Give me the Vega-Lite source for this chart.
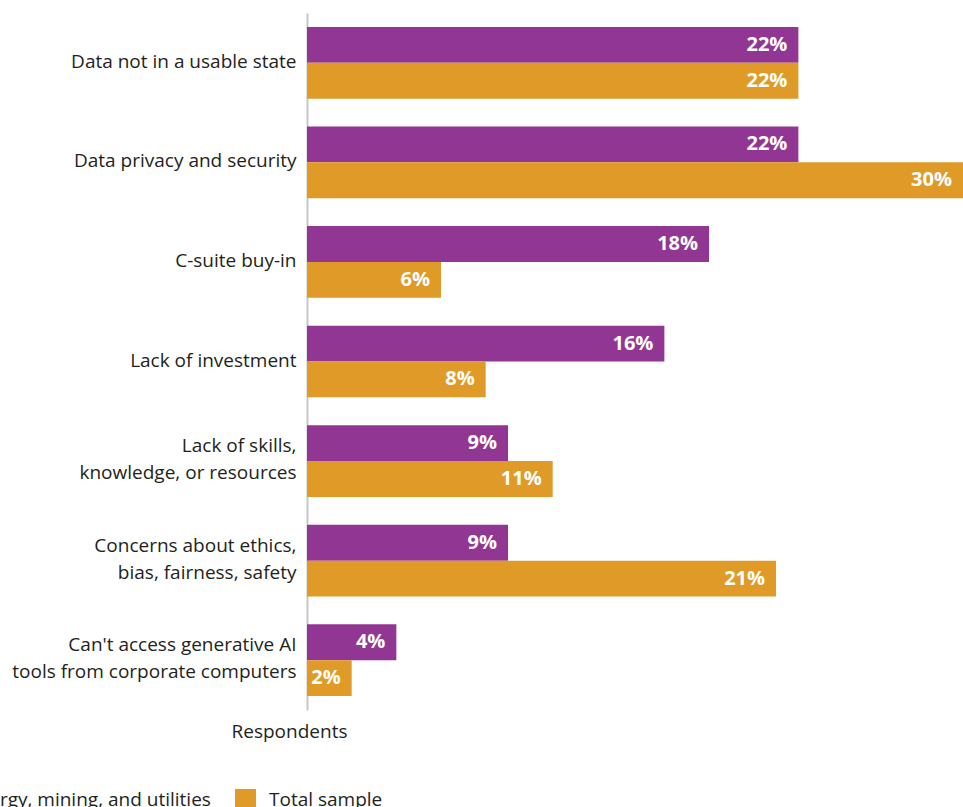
{
  "$schema": "https://vega.github.io/schema/vega-lite/v6.json",
  "width": 656,
  "height": 697,
  "autosize": {"type": "none"},
  "padding": {"left": 307, "top": 13, "right": 0, "bottom": 97},
  "background": "white",
  "config": {
    "view": {"stroke": null},
    "font": "Open Sans"
  },
  "data": {
    "values": [
      {"category": "Data not in a usable state", "group": "Energy, mining, and utilities", "value": 0.22},
      {"category": "Data not in a usable state", "group": "Total sample", "value": 0.22},
      {"category": "Data privacy and security", "group": "Energy, mining, and utilities", "value": 0.22},
      {"category": "Data privacy and security", "group": "Total sample", "value": 0.30},
      {"category": "C-suite buy-in", "group": "Energy, mining, and utilities", "value": 0.18},
      {"category": "C-suite buy-in", "group": "Total sample", "value": 0.06},
      {"category": "Lack of investment", "group": "Energy, mining, and utilities", "value": 0.16},
      {"category": "Lack of investment", "group": "Total sample", "value": 0.08},
      {"category": "Lack of skills,|knowledge, or resources", "group": "Energy, mining, and utilities", "value": 0.09},
      {"category": "Lack of skills,|knowledge, or resources", "group": "Total sample", "value": 0.11},
      {"category": "Concerns about ethics,|bias, fairness, safety", "group": "Energy, mining, and utilities", "value": 0.09},
      {"category": "Concerns about ethics,|bias, fairness, safety", "group": "Total sample", "value": 0.21},
      {"category": "Can't access generative AI|tools from corporate computers", "group": "Energy, mining, and utilities", "value": 0.04},
      {"category": "Can't access generative AI|tools from corporate computers", "group": "Total sample", "value": 0.02}
    ]
  },
  "encoding": {
    "y": {
      "field": "category",
      "type": "nominal",
      "sort": null,
      "scale": {"paddingInner": 0.28, "paddingOuter": 0.14},
      "axis": {
        "title": null,
        "ticks": false,
        "domainColor": "#c8c8c8",
        "domainWidth": 2,
        "labelFontSize": 19,
        "labelColor": "#231f20",
        "labelPadding": 11,
        "labelLineHeight": 27,
        "labelLimit": 400,
        "labelOffset": {"condition": {"test": "indexof(datum.value, '|') >= 0", "value": -15}, "value": -1},
        "labelExpr": "split(datum.label, '|')"
      }
    },
    "yOffset": {"field": "group", "type": "nominal", "sort": ["Energy, mining, and utilities", "Total sample"]},
    "x": {
      "field": "value",
      "type": "quantitative",
      "scale": {"domain": [0, 0.2937], "nice": false, "clamp": true},
      "axis": {
        "domain": false,
        "ticks": false,
        "labels": false,
        "grid": false,
        "title": "Respondents",
        "titleFontSize": 19,
        "titleFontWeight": "normal",
        "titleColor": "#231f20",
        "titleX": -18,
        "titleY": 27,
        "titleAlign": "center",
        "titleBaseline": "alphabetic"
      }
    }
  },
  "layer": [
    {
      "mark": {"type": "bar"},
      "encoding": {
        "color": {
          "field": "group",
          "type": "nominal",
          "scale": {"domain": ["Energy, mining, and utilities", "Total sample"], "range": ["#923693", "#e09a27"]},
          "legend": {
            "title": null,
            "orient": "none",
            "direction": "horizontal",
            "legendX": -374,
            "legendY": 776,
            "symbolType": "square",
            "symbolSize": 441,
            "symbolStrokeWidth": 0,
            "labelFontSize": 19,
            "labelColor": "#231f20",
            "labelOffset": 13,
            "columnPadding": 24,
            "labelLimit": 400
          }
        }
      }
    },
    {
      "mark": {"type": "text", "align": "right", "baseline": "middle", "dx": -11, "fontSize": 20, "fontWeight": "bold", "color": "white"},
      "encoding": {
        "text": {"field": "value", "type": "quantitative", "format": ".0%"},
        "detail": {"field": "group"}
      }
    }
  ]
}
